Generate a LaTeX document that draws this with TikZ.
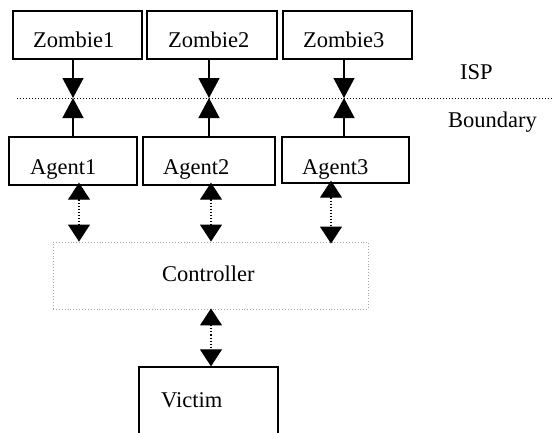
\documentclass[tikz,border=0pt]{standalone}
\usepackage{fontspec}
\setmainfont{Liberation Serif}
\usetikzlibrary{arrows.meta}
\begin{document}
\begin{tikzpicture}[x=1pt,y=-1pt,
  box/.style={draw,line width=1.4pt,rectangle,inner sep=0pt,minimum height=48pt},
  ctrlbox/.style={draw=gray!70,line width=0.9pt,dotted,rectangle,inner sep=0pt},
  lbl/.style={anchor=base west,inner sep=0pt,font=\fontsize{22.5}{27}\selectfont},
  solidarrow/.style={line width=1.4pt,-{Triangle[width=21pt,length=20pt]}},
  duplex/.style={line width=1.1pt,dotted,{Triangle[width=22pt,length=17pt]}-{Triangle[width=22pt,length=17pt]}}]
\useasboundingbox (0,0) rectangle (554,432);
\clip (0,0) rectangle (554,432);

% zombie hosts
\node[box,minimum width=129pt] (z1) at (77.5,35) {};
\node[box,minimum width=130pt] (z2) at (212,35) {};
\node[box,minimum width=129pt] (z3) at (347.5,35) {};
\node[lbl] (z1t) at (33,47) {Zombie1};
\node[lbl] (z2t) at (168,47) {Zombie2};
\node[lbl] (z3t) at (303,47) {Zombie3};

% agents at the ISP boundary
\node[box,minimum width=128pt] (a1) at (73,161) {};
\node[box,minimum width=132pt] (a2) at (209,161) {};
\node[box,minimum width=127pt,minimum height=46pt] (a3) at (345.5,160) {};
\node[lbl] (a1t) at (30,174) {Agent1};
\node[lbl] (a2t) at (163,174) {Agent2};
\node[lbl] (a3t) at (302,174) {Agent3};

% controller and victim
\node[ctrlbox,minimum width=315pt,minimum height=67pt] (ctrl) at (210.5,275.5) {};
\node[lbl] (ctrlt) at (162,281) {Controller};
\node[box,minimum width=139pt,minimum height=73pt] (vic) at (208.5,403.5) {};
\node[lbl] (vict) at (161,407) {Victim};

% ISP boundary line and its labels
\coordinate (bl) at (17,98);
\coordinate (br) at (554,98);
\draw[line width=1pt,dotted] (bl) -- (br);
\node[lbl] (isp) at (460,79) {ISP};
\node[lbl] (bnd) at (448,127) {Boundary};

% meeting points on the boundary
\coordinate (m1) at (73,98);
\coordinate (m2) at (209,98);
\coordinate (m3) at (344,98);

\draw[solidarrow] (z1.south -| m1) -- (m1);
\draw[solidarrow] (z2.south -| m2) -- (m2);
\draw[solidarrow] (z3.south -| m3) -- (m3);
\draw[solidarrow] (a1.north -| m1) -- (m1);
\draw[solidarrow] (a2.north -| m2) -- (m2);
\draw[solidarrow] (a3.north -| m3) -- (m3);

% agent <-> controller links
\coordinate (c1) at (79,0);
\coordinate (c2) at (211,0);
\coordinate (c3) at (331,0);
\draw[duplex] ([yshift=3pt]a1.south -| c1) -- (ctrl.north -| c1);
\draw[duplex] ([yshift=3pt]a2.south -| c2) -- (ctrl.north -| c2);
\draw[duplex] ([yshift=3pt]a3.south -| c3) -- ([yshift=-2pt]ctrl.north -| c3);

% controller <-> victim link
\draw[duplex] ([yshift=1pt]ctrl.south -| c2) -- (vic.north -| c2);
\end{tikzpicture}
\end{document}
